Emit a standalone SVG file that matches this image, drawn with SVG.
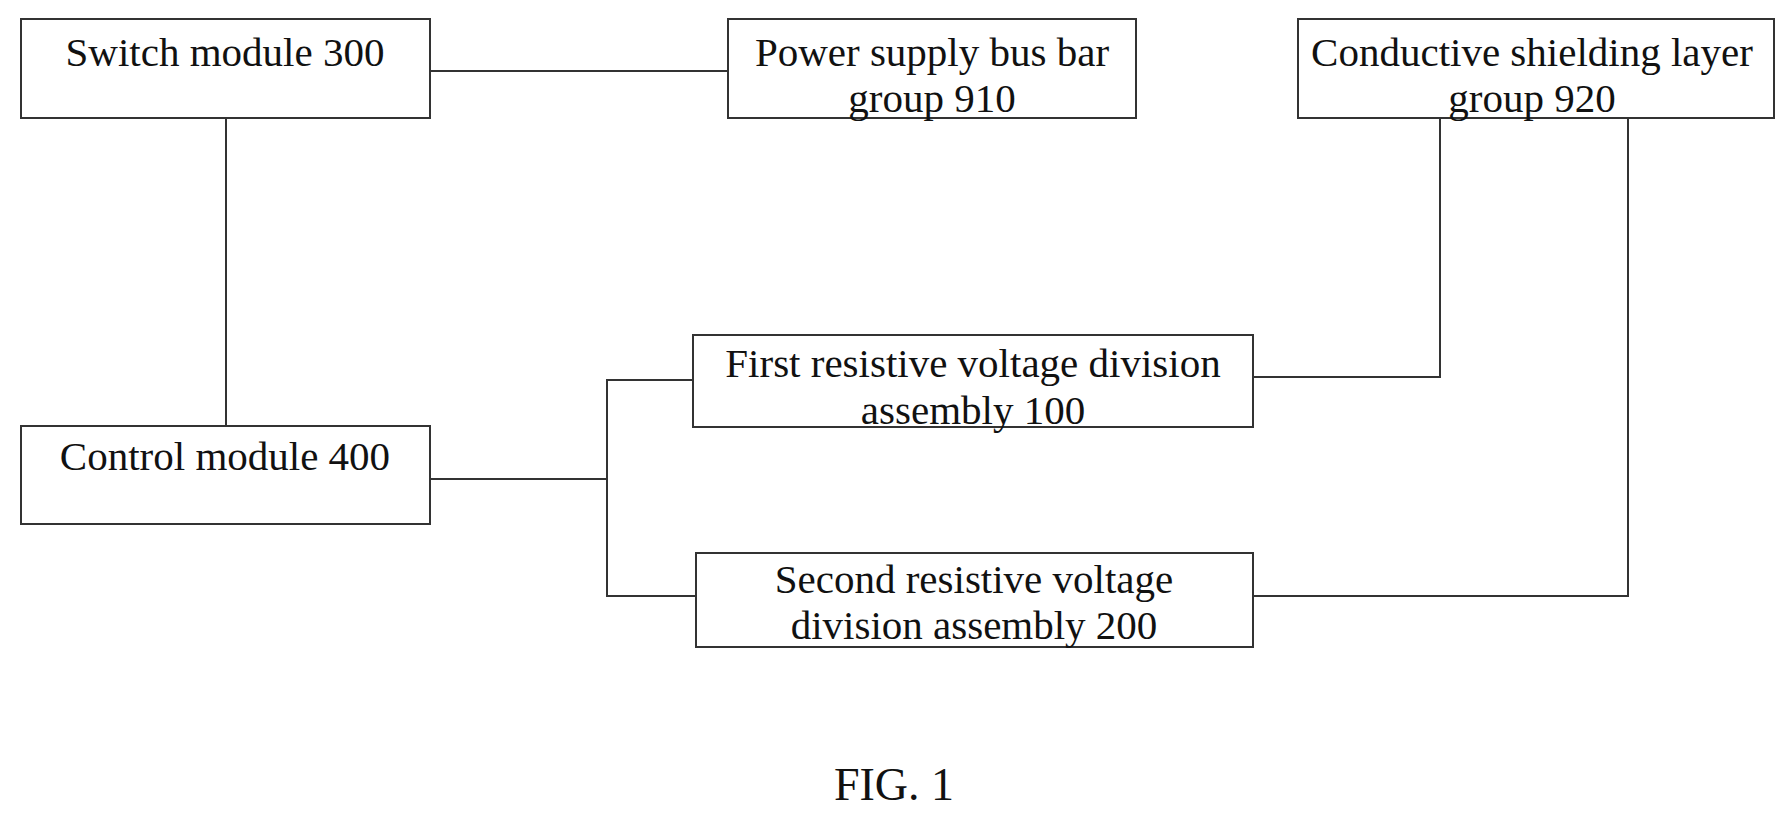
<svg xmlns="http://www.w3.org/2000/svg" width="1791" height="816" viewBox="0 0 1791 816">
<style>
.n rect{fill:#fff;stroke:#333;stroke-width:2}
text{font-family:"Liberation Serif",serif;font-size:41px;fill:#111;text-anchor:middle}
.c line,.c polyline{stroke:#333;stroke-width:2;fill:none}
</style>
<rect width="1791" height="816" fill="#fff"/>
<g class="c" id="connectors">
<line x1="430" y1="71" x2="728" y2="71"/>
<line x1="226" y1="118" x2="226" y2="426"/>
<line x1="430" y1="479" x2="607" y2="479"/>
<polyline points="693,380 607,380 607,596 696,596"/>
<polyline points="1253,377 1440,377 1440,118"/>
<polyline points="1253,596 1628,596 1628,118"/>
</g>
<g class="n" id="switch"><rect x="21" y="19" width="409" height="99"/><text x="225" y="66">Switch module 300</text></g>
<g class="n" id="power"><rect x="728" y="19" width="408" height="99"/><text x="932" y="66">Power supply bus bar</text><text x="932" y="112">group 910</text></g>
<g class="n" id="shield"><rect x="1298" y="19" width="476" height="99"/><text x="1532" y="66">Conductive shielding layer</text><text x="1532" y="112">group 920</text></g>
<g class="n" id="first"><rect x="693" y="335" width="560" height="92"/><text x="973" y="377">First resistive voltage division</text><text x="973" y="424">assembly 100</text></g>
<g class="n" id="control"><rect x="21" y="426" width="409" height="98"/><text x="225" y="470">Control module 400</text></g>
<g class="n" id="second"><rect x="696" y="553" width="557" height="94"/><text x="974" y="593">Second resistive voltage</text><text x="974" y="639">division assembly 200</text></g>
<text x="894" y="800" style="font-size:46px">FIG. 1</text>
</svg>
